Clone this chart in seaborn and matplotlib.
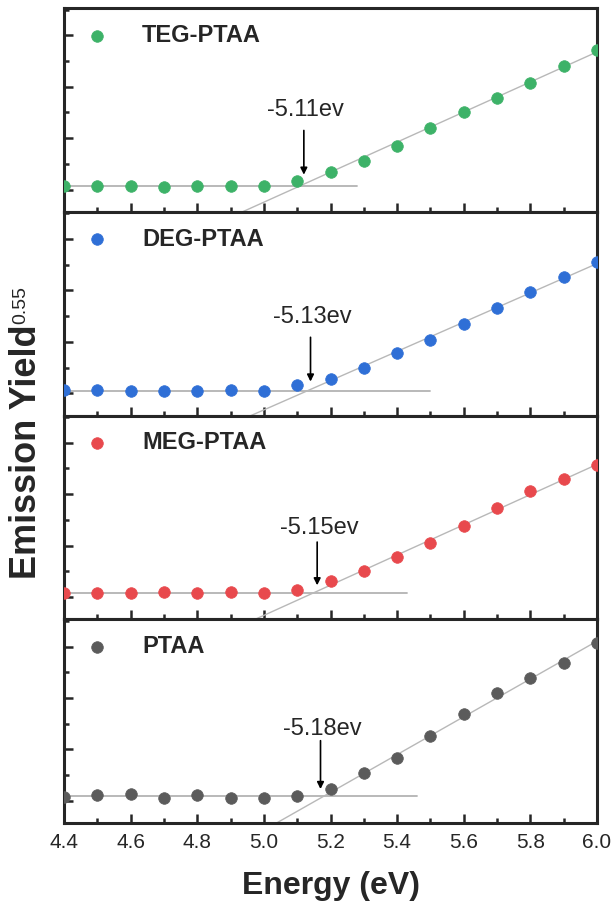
import numpy as np
import matplotlib
matplotlib.use("Agg")
import matplotlib.pyplot as plt
from matplotlib.ticker import MultipleLocator, FormatStrFormatter
import seaborn as sns

sns.set_style("ticks")
plt.rcParams['font.family'] = ['Liberation Sans', 'DejaVu Sans']

# ---------------- data ----------------
energy = [4.4, 4.5, 4.6, 4.7, 4.8, 4.9, 5.0, 5.1, 5.2, 5.3, 5.4, 5.5, 5.6, 5.7, 5.8, 5.9, 6.0]

names = ["TEG-PTAA", "DEG-PTAA", "MEG-PTAA", "PTAA"]
colors = ["#3db268", "#2f6fd6", "#e8494d", "#5b5b5b"]

teg_ptaa = [0.08, 0.08, 0.08, 0.06, 0.08, 0.08, 0.08, 0.17, 0.35, 0.56, 0.85, 1.20, 1.50, 1.79, 2.08, 2.41, 2.72]
deg_ptaa = [0.06, 0.06, 0.04, 0.04, 0.04, 0.06, 0.04, 0.17, 0.27, 0.49, 0.78, 1.03, 1.34, 1.65, 1.98, 2.27, 2.56]
meg_ptaa = [0.08, 0.08, 0.08, 0.10, 0.08, 0.10, 0.08, 0.14, 0.31, 0.50, 0.78, 1.05, 1.38, 1.73, 2.06, 2.29, 2.56]
ptaa     = [0.08, 0.12, 0.14, 0.06, 0.12, 0.06, 0.06, 0.10, 0.23, 0.54, 0.83, 1.26, 1.69, 2.10, 2.39, 2.68, 3.07]
series = [teg_ptaa, deg_ptaa, meg_ptaa, ptaa]

onsets = [5.11, 5.13, 5.15, 5.18]
onset_labels = ["-5.11ev", "-5.13ev", "-5.15ev", "-5.18ev"]
baseline_ends = [5.28, 5.50, 5.43, 5.46]

# ---------------- layout / annotation placement ----------------
arrow_x = [5.12, 5.14, 5.16, 5.17]
arrow_start_y = [1.15, 1.09, 1.07, 1.17]
arrow_tip_y = [0.29, 0.23, 0.23, 0.23]
text_y = [1.55, 1.48, 1.34, 1.40]
ylo, yhi = -0.43, 3.53

W, H = 615, 914
fig, axes = plt.subplots(4, 1, sharex=True, figsize=(W / 100, H / 100), dpi=100)
fig.subplots_adjust(left=64 / W, right=597 / W, top=1 - 8 / H, bottom=1 - 823 / H, hspace=0)

x = np.array(energy)
for i, ax in enumerate(axes):
    y = np.array(series[i])
    c = colors[i]
    base = y[:7].mean()
    x0 = onsets[i]
    # baseline
    ax.plot([x[0], baseline_ends[i]], [base, base], color="#b3b3b3", lw=1.3, zorder=1)
    # linear fit through onset
    m = x >= 5.3
    slope = np.sum((x[m] - x0) * (y[m] - base)) / np.sum((x[m] - x0) ** 2)
    xf = np.array([4.85, 6.0])
    ax.plot(xf, base + slope * (xf - x0), color="#b8b8b8", lw=1.0, zorder=1)

    sns.scatterplot(x=x, y=y, ax=ax, color=c, s=70, edgecolor=c, linewidth=0.5,
                    label=names[i], zorder=3)

    ax.annotate("", xy=(arrow_x[i], arrow_tip_y[i]), xytext=(arrow_x[i], arrow_start_y[i]),
                arrowprops=dict(arrowstyle="-|>", color="black", lw=1.2, mutation_scale=10,
                                shrinkA=0, shrinkB=0))
    ax.text(arrow_x[i] + 0.005, text_y[i], onset_labels[i], ha="center", va="center", fontsize=17)

    ax.set_xlim(4.4, 6.0)
    ax.set_ylim(ylo, yhi)
    ax.yaxis.set_major_locator(MultipleLocator(1))
    ax.yaxis.set_minor_locator(MultipleLocator(0.5))
    ax.xaxis.set_major_locator(MultipleLocator(0.2))
    ax.xaxis.set_minor_locator(MultipleLocator(0.1))
    ax.xaxis.set_major_formatter(FormatStrFormatter("%.1f"))
    ax.tick_params(axis="both", which="major", direction="in", length=6.5, width=1.8,
                   labelleft=False, labelsize=15, pad=7)
    ax.tick_params(axis="both", which="minor", direction="in", length=3.5, width=1.8)
    ax.tick_params(top=False, right=False, which="both")
    for sp in ax.spines.values():
        sp.set_linewidth(2.2)
        sp.set_visible(True)
    ax.set_ylabel("")
    ax.set_xlabel("")

    ax.legend(loc="center left", bbox_to_anchor=(0, (3 - ylo) / (yhi - ylo)),
              frameon=False, borderaxespad=0, borderpad=0, handlelength=2.8,
              handletextpad=0.5, prop={"size": 17, "weight": "bold"})

for ax in axes[:-1]:
    ax.tick_params(labelbottom=False)

axes[-1].set_xlabel("Energy (eV)", fontsize=23, fontweight="bold", labelpad=14)

# y label with a smaller superscript
ylab = fig.text(27 / W, 1 - 452 / H, "Emission Yield", rotation=90, ha="center", va="center",
                fontsize=26, fontweight="bold")
fig.canvas.draw()
bb = ylab.get_window_extent(renderer=fig.canvas.get_renderer())
fig.text((bb.x0 + 3) / fig.dpi / fig.get_figwidth(), (bb.y1 + 1) / fig.dpi / fig.get_figheight(),
         "0.55", rotation=90, ha="left", va="bottom", fontsize=14)

fig.savefig("out.png", dpi=100)
